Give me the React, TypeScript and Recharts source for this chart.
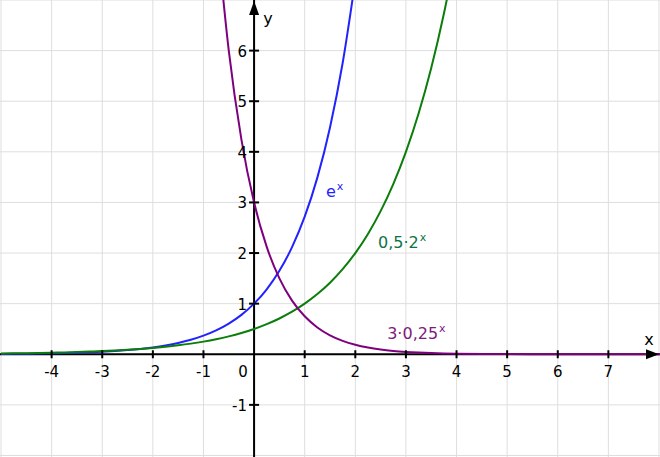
import { ComposedChart, Line, ReferenceLine, Scatter, XAxis, YAxis } from 'recharts'

// visible window of the plane
const xDomain: [number, number] = [-5.02, 8.02]
const yDomain: [number, number] = [-2.03, 7.0]

const gridX = [-5, -4, -3, -2, -1, 0, 1, 2, 3, 4, 5, 6, 7, 8]
const gridY = [-2, -1, 0, 1, 2, 3, 4, 5, 6, 7]
const xTickValues = [-4, -3, -2, -1, 1, 2, 3, 4, 5, 6, 7]
const yTickValues = [-1, 1, 2, 3, 4, 5, 6]

// e^x
const expX = [-5, -4.75, -4.5, -4.25, -4, -3.75, -3.5, -3.25, -3, -2.75, -2.5, -2.25, -2, -1.75, -1.5, -1.25, -1, -0.75, -0.5, -0.25, 0, 0.25, 0.5, 0.75, 1, 1.25, 1.5, 1.75, 2]
const expY = [0.0067, 0.0087, 0.0111, 0.0143, 0.0183, 0.0235, 0.0302, 0.0388, 0.0498, 0.0639, 0.0821, 0.1054, 0.1353, 0.1738, 0.2231, 0.2865, 0.3679, 0.4724, 0.6065, 0.7788, 1, 1.284, 1.6487, 2.117, 2.7183, 3.4903, 4.4817, 5.7546, 7.3891]

// 0,5·2^x
const halfX = [-5, -4.75, -4.5, -4.25, -4, -3.75, -3.5, -3.25, -3, -2.75, -2.5, -2.25, -2, -1.75, -1.5, -1.25, -1, -0.75, -0.5, -0.25, 0, 0.25, 0.5, 0.75, 1, 1.25, 1.5, 1.75, 2, 2.25, 2.5, 2.75, 3, 3.25, 3.5, 3.75, 4]
const halfY = [0.0156, 0.0186, 0.0221, 0.0263, 0.0313, 0.0372, 0.0442, 0.0526, 0.0625, 0.0743, 0.0884, 0.1051, 0.125, 0.1487, 0.1768, 0.2102, 0.25, 0.2973, 0.3536, 0.4204, 0.5, 0.5946, 0.7071, 0.8409, 1, 1.1892, 1.4142, 1.6818, 2, 2.3784, 2.8284, 3.3636, 4, 4.7568, 5.6569, 6.7272, 8]

// 3·0,25^x
const quarterX = [-0.75, -0.5, -0.25, 0, 0.25, 0.5, 0.75, 1, 1.25, 1.5, 1.75, 2, 2.25, 2.5, 2.75, 3, 3.25, 3.5, 3.75, 4, 4.5, 5, 6, 7, 8.1]
const quarterY = [8.485, 6, 4.2426, 3, 2.1213, 1.5, 1.0607, 0.75, 0.5303, 0.375, 0.2652, 0.1875, 0.1326, 0.0938, 0.0663, 0.0469, 0.0331, 0.0234, 0.0166, 0.0117, 0.0059, 0.0029, 0.0007, 0.0002, 0.00004]

const curveLabels = [
  { x: 1.42, y: 3.11, base: 'e', sup: 'x', color: '#2323ff' },
  { x: 2.45, y: 2.1, base: '0,5·2', sup: 'x', color: '#0c7445' },
  { x: 2.63, y: 0.3, base: '3·0,25', sup: 'x', color: '#7d1a7d' },
]

const FONT = "'DejaVu Sans', Verdana, sans-serif"

const toPoints = (xs: number[], ys: number[]) => xs.map((x, i) => ({ x, y: ys[i] }))

const XTick = (props: any) => {
  const { cx, cy, payload } = props
  return (
    <g>
      <line x1={cx} y1={cy - 4} x2={cx} y2={cy + 4} stroke="#000" strokeWidth={2} />
      <text x={cx} y={cy + 23} textAnchor="middle" fontSize={15} fontFamily={FONT} fill="#000">
        {payload.x}
      </text>
    </g>
  )
}

const YTick = (props: any) => {
  const { cx, cy, payload } = props
  return (
    <g>
      <line x1={cx - 5} y1={cy} x2={cx + 5} y2={cy} stroke="#000" strokeWidth={2} />
      <text x={cx - 7} y={cy + 6} textAnchor="end" fontSize={15} fontFamily={FONT} fill="#000">
        {payload.y}
      </text>
    </g>
  )
}

const Origin = (props: any) => {
  const { cx, cy } = props
  return (
    <text x={cx - 11} y={cy + 23} textAnchor="middle" fontSize={15} fontFamily={FONT} fill="#000">
      0
    </text>
  )
}

const UpArrow = (props: any) => {
  const { cx, cy } = props
  return (
    <g>
      <polygon points={`${cx},${cy + 1} ${cx - 5},${cy + 15} ${cx + 5},${cy + 15}`} fill="#000" />
      <text x={cx + 14} y={cy + 24} textAnchor="middle" fontSize={16} fontFamily={FONT} fill="#000">
        y
      </text>
    </g>
  )
}

const RightArrow = (props: any) => {
  const { cx, cy } = props
  return (
    <g>
      <polygon points={`${cx - 1},${cy} ${cx - 14},${cy - 5} ${cx - 14},${cy + 5}`} fill="#000" />
      <text x={cx - 11} y={cy - 9} textAnchor="middle" fontSize={16} fontFamily={FONT} fill="#000">
        x
      </text>
    </g>
  )
}

const CurveLabel = (props: any) => {
  const { cx, cy, payload } = props
  return (
    <text x={cx} y={cy} fontSize={16} fontFamily={FONT} fill={payload.color}>
      <tspan>{payload.base}</tspan>
      <tspan dy={-7} dx={1} fontSize={11}>
        {payload.sup}
      </tspan>
    </text>
  )
}

export default function App() {
  const xTicks = xTickValues.map((x) => ({ x, y: 0 }))
  const yTicks = yTickValues.map((y) => ({ x: 0, y }))

  return (
    <div style={{ position: 'absolute', left: 0, top: 0, width: 660, height: 457, background: '#fff' }}>
      <ComposedChart width={660} height={457} margin={{ top: 0, right: 0, bottom: 0, left: 0 }}>
        <XAxis type="number" dataKey="x" domain={xDomain} allowDataOverflow hide />
        <YAxis type="number" dataKey="y" domain={yDomain} allowDataOverflow hide />

        {gridX.map((v) => (
          <ReferenceLine key={`gx${v}`} x={v} stroke="#dedede" strokeWidth={1} />
        ))}
        {gridY.map((v) => (
          <ReferenceLine key={`gy${v}`} y={v} stroke="#dedede" strokeWidth={1} />
        ))}

        <ReferenceLine x={0} stroke="#000" strokeWidth={2} />
        <ReferenceLine y={0} stroke="#000" strokeWidth={2} />

        <Line data={toPoints(expX, expY)} dataKey="y" type="monotone" stroke="#2222ff" strokeWidth={2} dot={false} activeDot={false} isAnimationActive={false} />
        <Line data={toPoints(halfX, halfY)} dataKey="y" type="monotone" stroke="#0a7d0a" strokeWidth={2} dot={false} activeDot={false} isAnimationActive={false} />
        <Line data={toPoints(quarterX, quarterY)} dataKey="y" type="monotone" stroke="#7f007f" strokeWidth={2} dot={false} activeDot={false} isAnimationActive={false} />

        <Scatter data={xTicks} dataKey="y" shape={XTick} isAnimationActive={false} />
        <Scatter data={yTicks} dataKey="y" shape={YTick} isAnimationActive={false} />
        <Scatter data={[{ x: 0, y: 0 }]} dataKey="y" shape={Origin} isAnimationActive={false} />
        <Scatter data={[{ x: 0, y: yDomain[1] }]} dataKey="y" shape={UpArrow} isAnimationActive={false} />
        <Scatter data={[{ x: xDomain[1], y: 0 }]} dataKey="y" shape={RightArrow} isAnimationActive={false} />
        <Scatter data={curveLabels} dataKey="y" shape={CurveLabel} isAnimationActive={false} />
      </ComposedChart>
    </div>
  )
}
